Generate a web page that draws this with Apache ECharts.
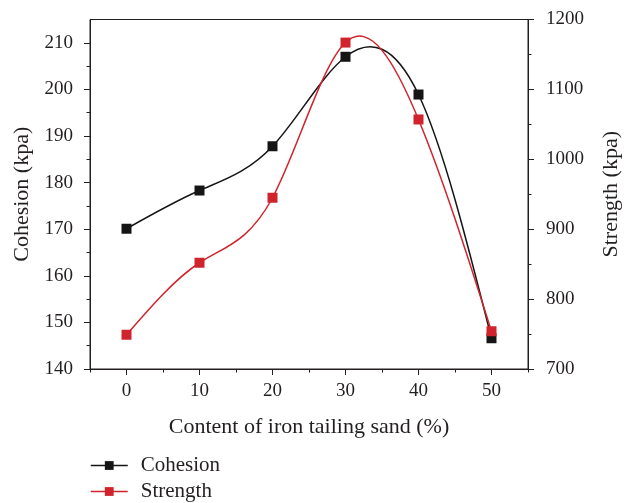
<!DOCTYPE html>
<html>
<head>
<meta charset="utf-8">
<script src="https://cdn.jsdelivr.net/npm/echarts@6/dist/echarts.min.js"></script>
<style>html,body{margin:0;padding:0;background:#fff;}#c{width:630px;height:503px;}</style>
</head>
<body>
<div id="c"></div>
<script>
const contents = [0, 10, 20, 30, 40, 50];
const cohesion = [170.1, 178.3, 187.8, 207.0, 198.9, 146.6];
const strength = [749, 852, 945, 1167, 1057, 754];
const xTickLabels = [0, 10, 20, 30, 40, 50];
const xMinorTicks = [-5, 5, 15, 25, 35, 45, 55];
const leftTickLabels = [140, 150, 160, 170, 180, 190, 200, 210];
const leftMinorTicks = [145, 155, 165, 175, 185, 195, 205];

const FONT = 'Liberation Serif';
const TXT = '#231f20';
const BLACK = '#151515';
const RED = '#d0232b';

// Natural cubic spline -> per-segment Bezier control points (data space)
function splineSegments(xs, ys) {
  const n = xs.length - 1;
  const h = [];
  for (let i = 0; i < n; i++) h.push(xs[i + 1] - xs[i]);
  const M = new Array(n + 1).fill(0);
  if (n > 1) {
    const a = [], b = [], c = [], d = [];
    for (let i = 1; i < n; i++) {
      a.push(h[i - 1]); b.push(2 * (h[i - 1] + h[i])); c.push(h[i]);
      d.push(6 * ((ys[i + 1] - ys[i]) / h[i] - (ys[i] - ys[i - 1]) / h[i - 1]));
    }
    const m = b.length;
    for (let i = 1; i < m; i++) {
      const w = a[i] / b[i - 1];
      b[i] -= w * c[i - 1]; d[i] -= w * d[i - 1];
    }
    const sol = new Array(m);
    sol[m - 1] = d[m - 1] / b[m - 1];
    for (let i = m - 2; i >= 0; i--) sol[i] = (d[i] - c[i] * sol[i + 1]) / b[i];
    for (let i = 1; i < n; i++) M[i] = sol[i - 1];
  }
  const segs = [];
  for (let i = 0; i < n; i++) {
    const s = (ys[i + 1] - ys[i]) / h[i];
    const d0 = s - h[i] * (2 * M[i] + M[i + 1]) / 6;
    const d1 = s + h[i] * (M[i] + 2 * M[i + 1]) / 6;
    segs.push({
      p0: [xs[i], ys[i]],
      c1: [xs[i] + h[i] / 3, ys[i] + d0 * h[i] / 3],
      c2: [xs[i + 1] - h[i] / 3, ys[i + 1] - d1 * h[i] / 3],
      p1: [xs[i + 1], ys[i + 1]]
    });
  }
  return segs;
}

function curveSeries(name, ys, yAxisIndex, color) {
  const segs = splineSegments(contents, ys);
  return {
    name: name, type: 'custom', xAxisIndex: 0, yAxisIndex: yAxisIndex, z: 1,
    data: [[contents[0], ys[0]]],
    silent: true,
    renderItem: function (params, api) {
      const children = segs.map(function (sg) {
        const p0 = api.coord(sg.p0), c1 = api.coord(sg.c1), c2 = api.coord(sg.c2), p1 = api.coord(sg.p1);
        return {
          type: 'bezierCurve',
          shape: {x1: p0[0], y1: p0[1], cpx1: c1[0], cpy1: c1[1], cpx2: c2[0], cpy2: c2[1], x2: p1[0], y2: p1[1]},
          style: {stroke: color, lineWidth: 1.5, fill: null}
        };
      });
      return {type: 'group', children: children};
    }
  };
}

const chart = echarts.init(document.getElementById('c'), null, {renderer: 'canvas'});
const lbl = {fontFamily: FONT, fontSize: 19, color: TXT};
const axLine = {show: true, onZero: false, lineStyle: {color: TXT, width: 1}};
const nameStyle = {fontFamily: FONT, fontSize: 22, color: TXT};

chart.setOption({
  animation: false,
  backgroundColor: '#fff',
  grid: {left: 90, right: 102, top: 19.5, bottom: 134, show: true, borderColor: TXT, borderWidth: 1, backgroundColor: 'transparent'},
  legend: {
    orient: 'vertical', left: 90, bottom: 1, padding: 0, itemGap: 5, itemWidth: 37, itemHeight: 11,
    textStyle: {fontFamily: FONT, fontSize: 21, color: TXT, padding: [0, 0, 0, 8]},
    data: [
      {name: 'Cohesion', lineStyle: {opacity: 1, color: BLACK, width: 1.5}},
      {name: 'Strength', lineStyle: {opacity: 1, color: RED, width: 1.5}}
    ]
  },
  xAxis: [
    {type: 'value', min: -5, max: 55, position: 'bottom',
     name: 'Content of iron tailing sand (%)', nameLocation: 'middle', nameGap: 47,
     nameTextStyle: nameStyle,
     axisLine: axLine,
     axisTick: {show: true, inside: false, length: 6, customValues: xTickLabels, lineStyle: {color: TXT}},
     axisLabel: {customValues: xTickLabels, margin: 13, ...lbl},
     splitLine: {show: false}},
    {type: 'value', min: -5, max: 55, position: 'bottom',
     axisLine: {show: false, onZero: false},
     axisTick: {show: true, inside: false, length: 3.5, customValues: xMinorTicks, lineStyle: {color: TXT}},
     axisLabel: {show: false}, splitLine: {show: false}}
  ],
  yAxis: [
    {type: 'value', min: 140, max: 215, position: 'left',
     name: 'Cohesion (kpa)', nameLocation: 'middle', nameGap: 56, nameRotate: 90,
     nameTextStyle: nameStyle,
     axisLine: axLine,
     axisTick: {show: true, inside: false, length: 6, customValues: leftTickLabels, lineStyle: {color: TXT}},
     axisLabel: {customValues: leftTickLabels, margin: 17, ...lbl},
     splitLine: {show: false}},
    {type: 'value', min: 140, max: 215, position: 'left',
     axisLine: {show: false, onZero: false},
     axisTick: {show: true, inside: false, length: 3.5, customValues: leftMinorTicks, lineStyle: {color: TXT}},
     axisLabel: {show: false}, splitLine: {show: false}},
    {type: 'value', min: 700, max: 1200, interval: 100, position: 'right',
     name: 'Strength (kpa)', nameLocation: 'middle', nameGap: 72, nameRotate: 90,
     nameTextStyle: nameStyle,
     axisLine: axLine,
     axisTick: {show: true, inside: false, length: 6, lineStyle: {color: TXT}},
     minorTick: {show: true, splitNumber: 2, length: 3.5, lineStyle: {color: TXT}},
     axisLabel: {margin: 18, formatter: function (v) { return String(v); }, ...lbl},
     splitLine: {show: false}}
  ],
  series: [
    curveSeries('Cohesion curve', cohesion, 0, BLACK),
    curveSeries('Strength curve', strength, 2, RED),
    {name: 'Cohesion', type: 'line', xAxisIndex: 0, yAxisIndex: 0, z: 3,
     data: contents.map((x, i) => [x, cohesion[i]]),
     symbol: 'rect', symbolSize: 10, showSymbol: true,
     lineStyle: {color: BLACK, width: 1.5, opacity: 0}, itemStyle: {color: BLACK}},
    {name: 'Strength', type: 'line', xAxisIndex: 0, yAxisIndex: 2, z: 3,
     data: contents.map((x, i) => [x, strength[i]]),
     symbol: 'rect', symbolSize: 10, showSymbol: true,
     lineStyle: {color: RED, width: 1.5, opacity: 0}, itemStyle: {color: RED}}
  ]
});
</script>
</body>
</html>
